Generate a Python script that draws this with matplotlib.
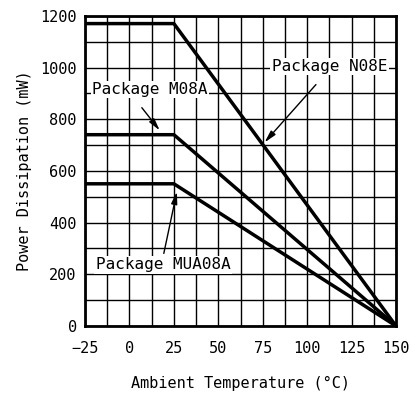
import numpy as np
import matplotlib.pyplot as plt

temp = [-25, 25, 150]
n08e = [1170, 1170, 0]
m08a = [740, 740, 0]
mua08a = [550, 550, 0]

xticks = [-25, 0, 25, 50, 75, 100, 125, 150]
yticks = [0, 200, 400, 600, 800, 1000, 1200]

plt.rcParams['font.family'] = ['DejaVu Sans Mono']
fig = plt.figure(figsize=(4.19, 3.96), dpi=100)
ax = fig.add_axes([0.203, 0.177, 0.742, 0.783])

ax.set_xlim(-25, 150)
ax.set_ylim(0, 1200)
ax.set_xticks(xticks)
ax.set_xticks(np.arange(-25, 150.1, 12.5), minor=True)
ax.set_yticks(yticks)
ax.set_yticks(np.arange(0, 1201, 100), minor=True)
ax.grid(True, which='both', color='black', linewidth=1.0)
ax.tick_params(which='both', length=0, labelsize=11)
ax.tick_params(axis='x', pad=11)
ax.tick_params(axis='y', pad=6)
for s in ax.spines.values():
    s.set_linewidth(2)

for series in (n08e, m08a, mua08a):
    ax.plot(temp, series, color='black', linewidth=2.5, solid_capstyle='butt')

box = dict(facecolor='white', edgecolor='none', pad=1)
ax.text(-21, 915, 'Package M08A', fontsize=11.5, va='center', ha='left', bbox=box)
ax.text(80, 1004, 'Package N08E', fontsize=11.5, va='center', ha='left', bbox=box)
ax.text(-19, 236, 'Package MUA08A', fontsize=11.5, va='center', ha='left', bbox=box)

arrow = dict(arrowstyle='-|>,head_length=0.8,head_width=0.2', color='black',
             linewidth=1, mutation_scale=9)
ax.annotate('', xy=(18, 748), xytext=(6, 853), arrowprops=arrow)
ax.annotate('', xy=(75, 702), xytext=(106, 942), arrowprops=arrow)
ax.annotate('', xy=(27, 530), xytext=(19, 270), arrowprops=arrow)

ax.set_xlabel('Ambient Temperature (°C)', fontsize=11, labelpad=14)
ax.set_ylabel('Power Dissipation (mW)', fontsize=11, labelpad=6)

fig.savefig('out.png', dpi=100)
